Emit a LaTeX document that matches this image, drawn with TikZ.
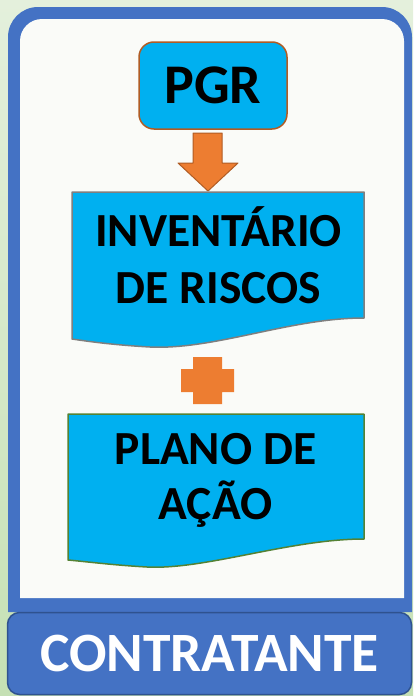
\documentclass[tikz,border=0pt]{standalone}
\usepackage{fontspec}
\setmainfont{Carlito}
\usepackage{tikz}
\definecolor{bgtop}{HTML}{E4F0DC}
\definecolor{bgbot}{HTML}{C5E0B4}
\definecolor{frameblue}{HTML}{4472C4}
\definecolor{framedark}{HTML}{2F528F}
\definecolor{paper}{HTML}{FAFBF8}
\definecolor{boxcyan}{HTML}{00B0F0}
\definecolor{orangefill}{HTML}{ED7D31}
\definecolor{orangeedge}{HTML}{B05C24}
\definecolor{docgray}{HTML}{7F7F7F}
\definecolor{docgreen}{HTML}{548235}
\tikzset{
  txt/.style 2 args={align=center,text=black,font=\bfseries\fontsize{#1}{#2}\selectfont},
  docbox/.style={fill=boxcyan,draw=#1,line width=1.5pt,line join=round}
}

\begin{document}
\begin{tikzpicture}[x=1pt,y=-1pt]
  \useasboundingbox (0,0) rectangle (413,696);
  \shade[top color=bgtop,bottom color=bgbot] (0,0) rectangle (413,696);
  \fill[frameblue] (8,612) [rounded corners=30pt]-- (8,7) -- (412,7) [sharp corners]-- (412,612) -- cycle;
  \fill[paper] (20,598) [rounded corners=22pt]-- (20,19) -- (404,19) [sharp corners]-- (404,598) -- cycle;
  \node[draw=orangeedge,line width=1.5pt,fill=boxcyan,rounded corners=15pt,minimum width=148pt,minimum height=87pt,txt={56pt}{60pt}] (pgr) at (213,85.5) {PGR};
  \coordinate (invtop) at (208,191);
  \draw[fill=orangefill,draw=orangeedge,line width=1pt,line join=round] (193,133) -- (222,133) -- (222,163) -- (238,163) -- (invtop) -- (178,163) -- (193,163) -- cycle;
  \draw[docbox=docgray] (72,192) -- (364,192) -- (364,318) .. controls (290,318) and (215,350) .. (150,347) .. controls (115,345) and (92,342) .. (72,339) -- cycle;
  \node[txt={47.5pt}{57pt}] (inv) at (218.5,255) {INVENTÁRIO\\DE RISCOS};
  \fill[orangefill] (193,357) -- (222,357) -- (222,369) -- (234,369) -- (234,392) -- (222,392) -- (222,404) -- (193,404) -- (193,392) -- (181,392) -- (181,369) -- (193,369) -- cycle;
  \draw[docbox=docgreen] (68,414) -- (364,414) -- (364,539) .. controls (290,539) and (205,570) .. (147,567) .. controls (112,565) and (90,562) .. (68,560) -- cycle;
  \node[txt={47.5pt}{55pt}] (plano) at (215.5,480) {PLANO DE\\AÇÃO};
  \node[draw=framedark,line width=1.5pt,fill=frameblue,rounded corners=12pt,minimum width=404pt,minimum height=82pt,txt={55.5pt}{60pt},text=white] (contr) at (209.5,653.5) {CONTRATANTE};
\end{tikzpicture}
\end{document}
